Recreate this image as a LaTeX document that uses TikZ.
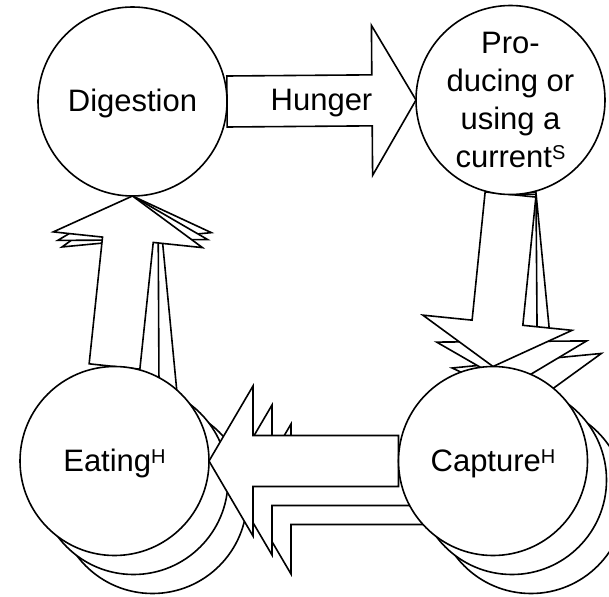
\documentclass[tikz,border=0pt]{standalone}
\usepackage{fontspec}
\setmainfont{Liberation Sans}
\usetikzlibrary{calc}
\pgfdeclarelayer{a3}\pgfdeclarelayer{c3}
\pgfdeclarelayer{a2}\pgfdeclarelayer{c2}
\pgfdeclarelayer{a1}
\pgfsetlayers{a3,c3,a2,c2,a1,main}
\newcommand\sups[1]{\raisebox{8pt}{\fontsize{20}{20}\selectfont #1}}
\newcommand\blockarrow[3]{%
  \coordinate (ba-s) at (#1);
  \coordinate (ba-t) at (#2);
  \coordinate (ba-h) at ($(ba-t)!44pt!(ba-s)$);
  \draw[blockarr] ($(ba-s)!25.5pt!90:(ba-t)$) -- ($(ba-h)!25.5pt!90:(ba-t)$)
    -- ($(ba-h)!75pt!90:(ba-t)$) -- (ba-t) -- ($(ba-h)!75pt!-90:(ba-t)$)
    -- ($(ba-h)!25.5pt!-90:(ba-t)$) -- ($(ba-s)!25.5pt!-90:(ba-t)$) -- cycle;
  \if\relax\detokenize{#3}\relax\else
    \node[lbl] at ($(ba-s)!0.5!(ba-t)$) {#3};\fi
}
\tikzset{
  circ/.style={circle, draw, fill=white, line width=1.6pt, minimum size=189pt,
    inner sep=0pt, outer sep=0pt, font=\fontsize{31}{38}\selectfont, align=center},
  onel/.style={text height=20pt, text depth=0pt},
  blockarr/.style={draw, fill=white, line width=1.6pt, line join=miter},
  lbl/.style={font=\fontsize{31}{38}\selectfont, text height=20pt, text depth=0pt, inner sep=0pt}
}
\begin{document}
\begin{tikzpicture}[x=1pt,y=-1pt]
\useasboundingbox (0,0) rectangle (609,596);
\node[circ,onel] (D) at (132.5,101.5) {Digestion};
\node[circ] (P) at (510.5,100) {Pro-\\ducing or\\using a\\current\sups{S}};
\begin{pgfonlayer}{c3}
  \node[circ,onel] (E3) at (152.5,499) {};
  \node[circ,onel] (C3) at (531,499) {};
\end{pgfonlayer}
\begin{pgfonlayer}{c2}
  \node[circ,onel] (E2) at (133.5,480) {};
  \node[circ,onel] (C2) at (512,480) {};
\end{pgfonlayer}
\node[circ,onel] (E1) at (114.5,461) {Eating\sups{H}};
\node[circ,onel] (C1) at (493,461) {Capture\sups{H}};
\begin{pgfonlayer}{a3}
  \blockarrow{P.south}{C3.north}{}
  \blockarrow{C3.west}{E3.east}{}
  \blockarrow{E3.north}{D.south}{}
\end{pgfonlayer}
\begin{pgfonlayer}{a2}
  \blockarrow{P.south}{C2.north}{}
  \blockarrow{C2.west}{E2.east}{}
  \blockarrow{E2.north}{D.south}{}
\end{pgfonlayer}
\begin{pgfonlayer}{a1}
  \blockarrow{D.east}{P.west}{Hunger}
  \blockarrow{P.south}{C1.north}{}
  \blockarrow{C1.west}{E1.east}{}
  \blockarrow{E1.north}{D.south}{}
\end{pgfonlayer}
\end{tikzpicture}
\end{document}
